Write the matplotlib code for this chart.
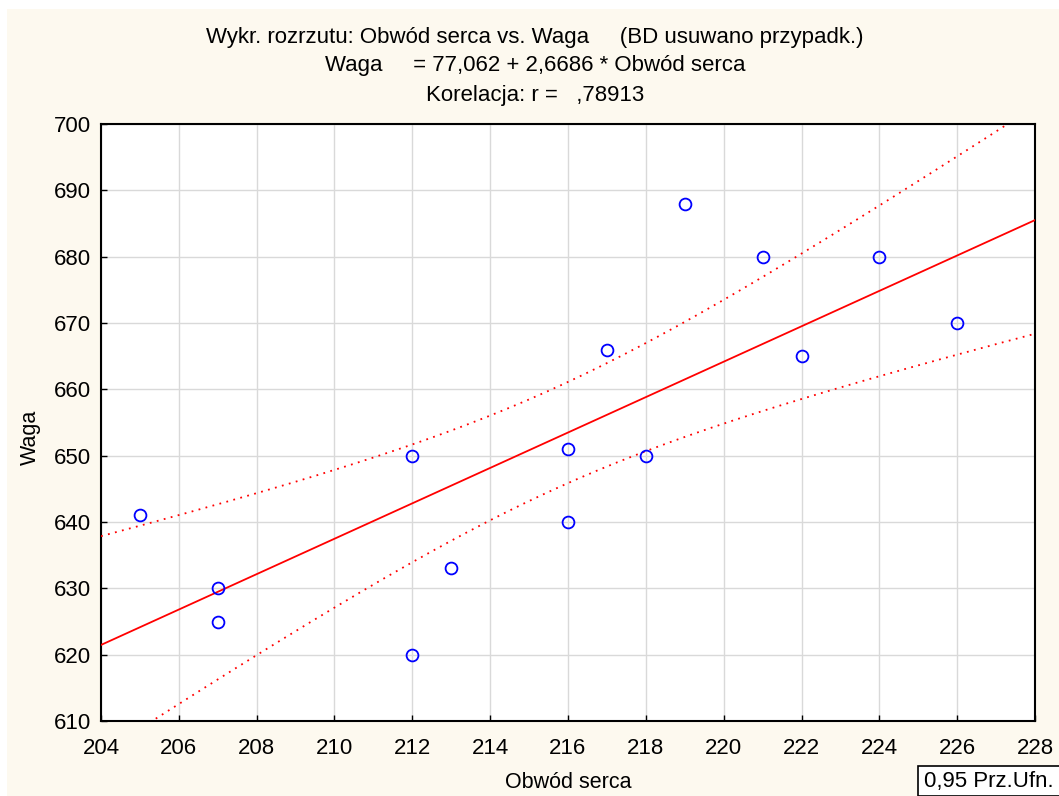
import numpy as np
import matplotlib
matplotlib.use('Agg')
import matplotlib.pyplot as plt
from matplotlib.patches import Rectangle

# dane: obwod serca vs waga
obwod = [205, 207, 207, 212, 212, 213, 216, 216, 217, 218, 219, 221, 222, 224, 226]
waga = [641, 630, 625, 650, 620, 633, 651, 640, 666, 650, 688, 680, 665, 680, 670]

x_ticks = list(range(204, 229, 2))
y_ticks = list(range(610, 701, 10))
t_975 = 2.1604  # t(0.975, df=13)

plt.rcParams['font.family'] = ['Liberation Sans', 'DejaVu Sans']

W, H = 1059, 796
fig = plt.figure(figsize=(W / 100, H / 100), dpi=100, facecolor='white')
fig.patches.append(Rectangle((7 / W, 0), 1, 1 - 9 / H, transform=fig.transFigure,
                             facecolor='#fdf9ef', edgecolor='none', zorder=-10))

ax = fig.add_axes([101 / W, 1 - 721 / H, (1035 - 101) / W, (721 - 124) / H])
ax.set_facecolor('white')

x = np.array(obwod, dtype=float)
y = np.array(waga, dtype=float)
b, a = np.polyfit(x, y, 1)
n = len(x)
resid = y - (a + b * x)
s = np.sqrt(np.sum(resid ** 2) / (n - 2))
sxx = np.sum((x - x.mean()) ** 2)

xs = np.linspace(204, 228, 200)
fit = a + b * xs
se = s * np.sqrt(1 / n + (xs - x.mean()) ** 2 / sxx)

ax.plot(xs, fit, color='#ff0000', lw=1.3, zorder=3)
ax.plot(xs, fit + t_975 * se, color='#ff0000', lw=1.3, ls=(0, (1, 3)), zorder=3)
ax.plot(xs, fit - t_975 * se, color='#ff0000', lw=1.3, ls=(0, (1, 3)), zorder=3)
ax.plot(obwod, waga, 'o', mfc='none', mec='#0000ff', mew=1.3, ms=8.5, zorder=4, clip_on=False)

ax.set_xlim(204, 228)
ax.set_ylim(610, 700)
ax.set_xticks(x_ticks)
ax.set_yticks(y_ticks)
ax.grid(True, color='#d9d9d9', lw=1)
ax.set_axisbelow(True)
ax.tick_params(direction='in', length=4, width=1, labelsize=16)
ax.tick_params(axis='x', pad=12)
ax.tick_params(axis='y', pad=7)
for sp in ax.spines.values():
    sp.set_linewidth(1.5)
    sp.set_color('black')

# etykiety osi
fig.text(568 / W, 1 - 782 / H, 'Obwód serca', ha='center', va='center', fontsize=15.5)
fig.text(30 / W, 1 - 437 / H, 'Waga', ha='center', va='center', rotation=90, fontsize=15.5)

cx = 535 / W
fig.text(cx, 1 - 37 / H, 'Wykr. rozrzutu: Obwód serca vs. Waga     (BD usuwano przypadk.)',
         ha='center', va='center', fontsize=16)
fig.text(cx, 1 - 66 / H, f'Waga     = {a:.3f} + {b:.4f} * Obwód serca'.replace('.', ','),
         ha='center', va='center', fontsize=16)
r = np.corrcoef(x, y)[0, 1]
fig.text(cx, 1 - 96 / H, 'Korelacja: r =   ' + f'{r:.5f}'[1:].replace('.', ','),
         ha='center', va='center', fontsize=16)

# ramka legendy
fig.patches.append(Rectangle((918 / W, 0), 1, 30 / H, transform=fig.transFigure,
                             facecolor='white', edgecolor='black', lw=1.2))
fig.text(924 / W, 1 - 781 / H, '0,95 Prz.Ufn.', ha='left', va='center', fontsize=16)

fig.savefig('out.png', dpi=100, facecolor=fig.get_facecolor())
